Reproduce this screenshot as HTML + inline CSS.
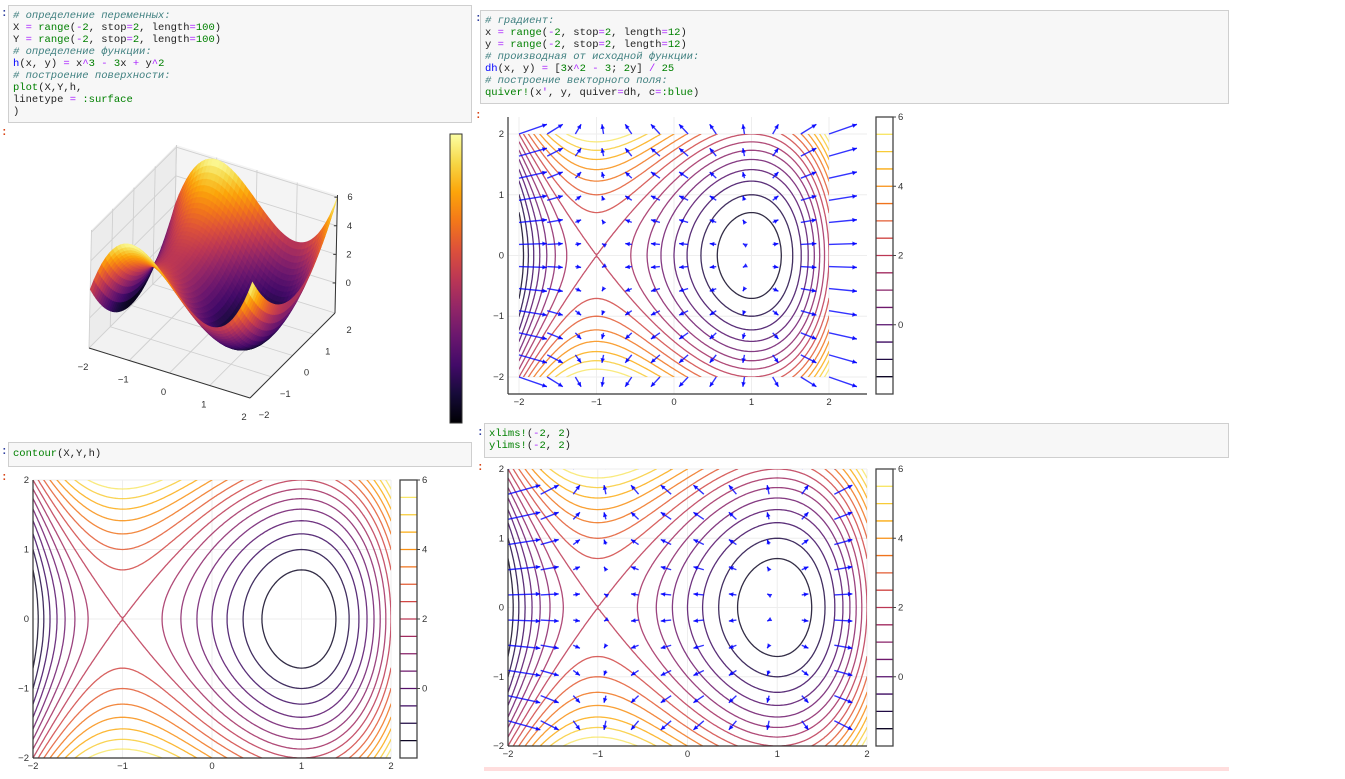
<!DOCTYPE html>
<html><head><meta charset="utf-8"><style>
body{margin:0;background:#fff;width:1345px;height:779px;overflow:hidden;position:relative;font-family:"Liberation Sans",sans-serif}
.code{position:absolute;background:#f7f7f7;border:1px solid #cfcfcf;font-family:"Liberation Mono","DejaVu Sans Mono",monospace;font-size:10.5px;line-height:12px;color:#222;white-space:pre;padding:0 0 0 4px;box-sizing:border-box}
.c{color:#408080;font-style:italic}.g{color:#008000}.o{color:#aa22ff}.b{color:#0000ff}
.p{position:absolute;font-size:11px;font-weight:bold;font-family:"Liberation Mono",monospace}
svg{position:absolute;left:0;top:0}
</style></head><body>
<span class="p" style="left:1px;top:8px;color:#303f9f">:</span>
<span class="p" style="left:1px;top:127px;color:#d84315">:</span>
<span class="p" style="left:475px;top:13px;color:#303f9f">:</span>
<span class="p" style="left:475px;top:110px;color:#d84315">:</span>
<span class="p" style="left:1px;top:446px;color:#303f9f">:</span>
<span class="p" style="left:1px;top:472px;color:#d84315">:</span>
<span class="p" style="left:477px;top:427px;color:#303f9f">:</span>
<span class="p" style="left:477px;top:462px;color:#d84315">:</span>
<div class="code" style="left:8px;top:5px;width:464px;height:118px;padding-top:4px"><span class="c"># определение переменных:</span>
X <span class="o">=</span> <span class="g">range</span>(<span class="o">-</span><span class="g">2</span>, stop<span class="o">=</span><span class="g">2</span>, length<span class="o">=</span><span class="g">100</span>)
Y <span class="o">=</span> <span class="g">range</span>(<span class="o">-</span><span class="g">2</span>, stop<span class="o">=</span><span class="g">2</span>, length<span class="o">=</span><span class="g">100</span>)
<span class="c"># определение функции:</span>
<span class="b">h</span>(x, y) <span class="o">=</span> x<span class="o">^</span><span class="g">3</span> <span class="o">-</span> <span class="g">3</span>x <span class="o">+</span> y<span class="o">^</span><span class="g">2</span>
<span class="c"># построение поверхности:</span>
<span class="g">plot</span>(X,Y,h,
linetype <span class="o">=</span> <span class="g">:surface</span>
)</div>
<div class="code" style="left:480px;top:10px;width:749px;height:94px;padding-top:4px"><span class="c"># градиент:</span>
x <span class="o">=</span> <span class="g">range</span>(<span class="o">-</span><span class="g">2</span>, stop<span class="o">=</span><span class="g">2</span>, length<span class="o">=</span><span class="g">12</span>)
y <span class="o">=</span> <span class="g">range</span>(<span class="o">-</span><span class="g">2</span>, stop<span class="o">=</span><span class="g">2</span>, length<span class="o">=</span><span class="g">12</span>)
<span class="c"># производная от исходной функции:</span>
<span class="b">dh</span>(x, y) <span class="o">=</span> [<span class="g">3</span>x<span class="o">^</span><span class="g">2</span> <span class="o">-</span> <span class="g">3</span>; <span class="g">2</span>y] <span class="o">/</span> <span class="g">25</span>
<span class="c"># построение векторного поля:</span>
<span class="g">quiver!</span>(x<span class="o">'</span>, y, quiver<span class="o">=</span>dh, c<span class="o">=</span><span class="g">:blue</span>)</div>
<div class="code" style="left:8px;top:442px;width:464px;height:25px;padding-top:5px"><span class="g">contour</span>(X,Y,h)</div>
<div class="code" style="left:484px;top:423px;width:745px;height:35px;padding-top:4px"><span class="g">xlims!</span>(<span class="o">-</span><span class="g">2</span>, <span class="g">2</span>)
<span class="g">ylims!</span>(<span class="o">-</span><span class="g">2</span>, <span class="g">2</span>)</div>
<div style="position:absolute;left:484px;top:767px;width:745px;height:4px;background:#fdd"></div>
<svg id="s" width="1345" height="779" xmlns="http://www.w3.org/2000/svg"></svg>
<script>
const levels=[-1.5,-1,-0.5,0,0.5,1,1.5,2,2.5,3,3.5,4,4.5,5,5.5];
const quiverX=[-2,-1.636,-1.273,-0.909,-0.545,-0.182,0.182,0.545,0.909,1.273,1.636,2];
const quiverY=[-2,-1.636,-1.273,-0.909,-0.545,-0.182,0.182,0.545,0.909,1.273,1.636,2];
const tickVals=[-2,-1,0,1,2];
const cbTicks=[0,2,4,6];
const coefA=1,coefB=-3,coefC=1,gradDiv=25;
function h(x,y){return coefA*x*x*x+coefB*x+coefC*y*y;}
function dh(x,y){return [(3*coefA*x*x+coefB)/gradDiv,2*coefC*y/gradDiv];}
const NS='http://www.w3.org/2000/svg';const S=document.getElementById('s');
function el(t,a,p){const e=document.createElementNS(NS,t);for(const k in a)e.setAttribute(k,a[k]);(p||S).appendChild(e);return e;}
const stops=['#000004','#160b39','#420a68','#6a176e','#932667','#bc3754','#dd513a','#f37819','#fca50a','#f6d746','#fcffa4'];
function hx(c){return [1,3,5].map(i=>parseInt(c.substr(i,2),16));}
function inferno(t){t=Math.max(0,Math.min(1,t));const f=t*10,i=Math.min(9,Math.floor(f)),u=f-i;const a=hx(stops[i]),b=hx(stops[i+1]);return 'rgb('+a.map((v,k)=>Math.round(v+(b[k]-v)*u)).join(',')+')';}
function lc(l){return inferno((l+2)/8);}
function txt(x,y,s,anchor,p,name){const t=el('text',{x:x,y:y,'font-size':'9.5','fill':'#333','text-anchor':anchor||'middle','font-family':'Liberation Sans, DejaVu Sans, sans-serif'},p);t.textContent=s;return t;}
function fmt(v){return v<0?'\u2212'+(-v):''+v;}
let cid=0;
function panel(o){
  const g=el('g',{});
  const X=v=>o.x0+(v-o.xmin)/(o.xmax-o.xmin)*(o.x1-o.x0);
  const Y=v=>o.y0-(v-o.ymin)/(o.ymax-o.ymin)*(o.y0-o.y1);
  tickVals.forEach(v=>{
    el('line',{x1:X(v),x2:X(v),y1:o.y1,y2:o.y0,stroke:'#eee','stroke-width':1},g);
    el('line',{x1:o.x0,x2:o.x1,y1:Y(v),y2:Y(v),stroke:'#eee','stroke-width':1},g);
    txt(X(v),o.y0+11,fmt(v),'middle',g,'x-tick-label');
    txt(o.x0-4,Y(v)+3,fmt(v),'end',g,'y-tick-label');
  });
  const id='cp'+(cid++);const cp=el('clipPath',{id:id},g);
  el('rect',{x:Math.max(o.x0,X(-2)),y:Math.max(o.y1,Y(2)),width:Math.min(o.x1,X(2))-Math.max(o.x0,X(-2)),height:Math.min(o.y0,Y(-2))-Math.max(o.y1,Y(2))},cp);
  const cg=el('g',{'clip-path':'url(#'+id+')'},g);
  const N=160;const vals=[];
  for(let j=0;j<=N;j++){vals.push([]);for(let i=0;i<=N;i++)vals[j].push(h(-2+4*i/N,-2+4*j/N));}
  levels.forEach(L=>{
    let d='';
    for(let j=0;j<N;j++)for(let i=0;i<N;i++){
      const c=[[i,j],[i+1,j],[i+1,j+1],[i,j+1]];const pts=[];
      for(let e=0;e<4;e++){const a=c[e],b=c[(e+1)%4];const va=vals[a[1]][a[0]]-L,vb=vals[b[1]][b[0]]-L;
        if((va<0)!==(vb<0)){const t=va/(va-vb);const gi=a[0]+(b[0]-a[0])*t,gj=a[1]+(b[1]-a[1])*t;pts.push([X(-2+4*gi/N),Y(-2+4*gj/N)]);}}
      for(let k=0;k+1<pts.length;k+=2)d+='M'+pts[k][0].toFixed(1)+' '+pts[k][1].toFixed(1)+'L'+pts[k+1][0].toFixed(1)+' '+pts[k+1][1].toFixed(1);
    }
    const p=el('path',{d:d,stroke:lc(L),'stroke-width':1.3,fill:'none','stroke-opacity':0.85,'stroke-linecap':'round'},cg);
    
    
  });
  if(o.quiver){
    const qid='cq'+(cid++);const qc=el('clipPath',{id:qid},g);
    el('rect',{x:o.x0,y:o.y1,width:o.x1-o.x0,height:o.y0-o.y1},qc);
    const qg=el('g',{'clip-path':'url(#'+qid+')'},g);
    quiverY.forEach(yv=>quiverX.forEach(xv=>{
      const v=dh(xv,yv);const ax=X(xv),ay=Y(yv),bx=X(xv+v[0]),by=Y(yv+v[1]);
      const l=el('line',{x1:ax,y1:ay,x2:bx,y2:by,stroke:'#0000ff','stroke-width':1.4,'stroke-opacity':0.8},qg);
      
      
      const dx=bx-ax,dy=by-ay,len=Math.hypot(dx,dy)||1,ux=dx/len,uy=dy/len,s=4.5;
      const hd=el('polygon',{points:[bx,by,bx-ux*s-uy*s*0.5,by-uy*s+ux*s*0.5,bx-ux*s+uy*s*0.5,by-uy*s-ux*s*0.5].map(n=>n.toFixed(1)).join(','),fill:'#0000ff','fill-opacity':0.85},qg);
      
      
    }));
  }
  el('line',{x1:o.x0,x2:o.x0,y1:o.y1,y2:o.y0,stroke:'#333','stroke-width':1.2},g);
  el('line',{x1:o.x0,x2:o.x1,y1:o.y0,y2:o.y0,stroke:'#333','stroke-width':1.2},g);
  // colorbar
  const cb=el('g',{},g);
  const CY=v=>o.cy0-(v+2)/8*(o.cy0-o.cy1);
  levels.forEach(L=>el('line',{x1:o.cx,x2:o.cx+o.cw,y1:CY(L),y2:CY(L),stroke:lc(L),'stroke-width':1.3},cb));
  el('rect',{x:o.cx,y:o.cy1,width:o.cw,height:o.cy0-o.cy1,fill:'none',stroke:'#444','stroke-width':1.3},cb);
  cbTicks.forEach(v=>{el('line',{x1:o.cx+o.cw,x2:o.cx+o.cw+3,y1:CY(v),y2:CY(v),stroke:'#444'},cb);txt(o.cx+o.cw+5,CY(v)+3,''+v,'start',cb,'colorbar-tick-label');});
}
panel({name:'contour-quiver-plot',x0:508,x1:867,y0:394,y1:117,xmin:-2.142,xmax:2.49,ymin:-2.28,ymax:2.28,quiver:true,cx:876,cw:17,cy0:394,cy1:117});
panel({name:'contour-plot',x0:33,x1:391,y0:758,y1:480,xmin:-2,xmax:2,ymin:-2,ymax:2,quiver:false,cx:400,cw:17,cy0:758,cy1:480});
panel({name:'contour-quiver-limited-plot',x0:508,x1:867,y0:746,y1:469,xmin:-2,xmax:2,ymin:-2,ymax:2,quiver:true,cx:876,cw:17,cy0:746,cy1:469});
// 3D surface
(function(){
  const g=el('g',{});
  const zmin=-2.1,zmax=6.15,kz=14.3;
  const P=(x,y,z)=>[89+(x+2)*40.25+(y+2)*21.25+(z-zmin)*0.3,348+(x+2)*12.5-(y+2)*21.25-(z-zmin)*kz];
  const poly=(pts,a)=>el('polygon',Object.assign({points:pts.map(p=>p[0].toFixed(1)+','+p[1].toFixed(1)).join(' ')},a),g);
  poly([P(-2,-2,zmin),P(2,-2,zmin),P(2,2,zmin),P(-2,2,zmin)],{fill:'#f2f2f2'});
  poly([P(-2,-2,zmin),P(-2,2,zmin),P(-2,2,zmax),P(-2,-2,zmax)],{fill:'#ececec'});
  poly([P(-2,2,zmin),P(2,2,zmin),P(2,2,zmax),P(-2,2,zmax)],{fill:'#f4f4f4'});
  const gl=(a,b)=>el('line',{x1:a[0],y1:a[1],x2:b[0],y2:b[1],stroke:'#d0d0d0','stroke-width':0.9},g);
  tickVals.forEach(v=>{gl(P(v,-2,zmin),P(v,2,zmin));gl(P(v,2,zmin),P(v,2,zmax));gl(P(-2,v,zmin),P(2,v,zmin));gl(P(-2,v,zmin),P(-2,v,zmax));});
  [0,2,4,6].forEach(z=>{gl(P(-2,-2,z),P(-2,2,z));gl(P(-2,2,z),P(2,2,z));});
  const N=44,q=[];
  for(let i=0;i<N;i++)for(let j=0;j<N;j++){
    const x0=-2+4*i/N,x1=-2+4*(i+1)/N,y0=-2+4*j/N,y1=-2+4*(j+1)/N;
    const zc=(h(x0,y0)+h(x1,y0)+h(x1,y1)+h(x0,y1))/4;
    const pts=[P(x0,y0,h(x0,y0)),P(x1,y0,h(x1,y0)),P(x1,y1,h(x1,y1)),P(x0,y1,h(x0,y1))];
    q.push({d:(x0+x1)/2-(y0+y1)/2,pts:pts,z:zc});
  }
  q.sort((a,b)=>a.d-b.d);
  q.forEach(o=>{const c=inferno((o.z+2)/8);poly(o.pts,{fill:c,stroke:c,'stroke-width':0.6});});
  const al=(a,b)=>el('line',{x1:a[0],y1:a[1],x2:b[0],y2:b[1],stroke:'#333','stroke-width':1},g);
  al(P(-2,-2,zmin),P(2,-2,zmin));al(P(2,-2,zmin),P(2,2,zmin));al(P(2,2,zmin),P(2,2,zmax));
  tickVals.forEach(v=>{const a=P(v,-2,zmin);txt(a[0]-6,a[1]+22,fmt(v),'middle',g,'x-tick-label');const b=P(2,v,zmin);txt(b[0]+14,b[1]+20,fmt(v),'middle',g,'y-tick-label');});
  [0,2,4,6].forEach(z=>{const a=P(2,2,z);el('line',{x1:a[0],y1:a[1],x2:a[0]-3,y2:a[1],stroke:'#333'},g);txt(a[0]+10,a[1]+3,''+z,'start',g,'z-tick-label');});
  const df=el('defs',{});const lg=el('linearGradient',{id:'infg',x1:0,y1:1,x2:0,y2:0},df);
  stops.forEach((c,i)=>el('stop',{offset:i/10,'stop-color':c},lg));
  const r=el('rect',{x:450,y:134,width:12,height:289,fill:'url(#infg)',stroke:'#333','stroke-width':1});
  
  
})();
</script>
</body></html>
